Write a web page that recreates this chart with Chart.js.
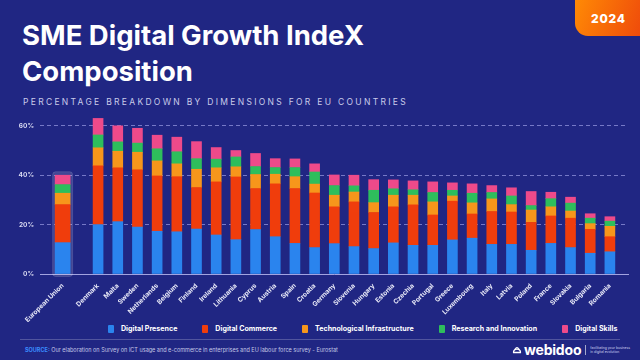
<!DOCTYPE html>
<html>
<head>
<meta charset="utf-8">
<script src="https://cdn.jsdelivr.net/npm/chart.js@4.4.1/dist/chart.umd.min.js"></script>
<style>
  html, body { margin: 0; padding: 0; }
  body { width: 640px; height: 360px; background: #202683; position: relative; overflow: hidden; font-family: Inter, "Open Sans", sans-serif; color: #fff; }
  #title { position: absolute; left: 22px; top: 17px; font-size: 27.5px; font-weight: 700; line-height: 36px; }
  #subtitle { position: absolute; left: 23px; top: 97px; font-size: 8.5px; letter-spacing: 2.3px; color: #c9cbea; white-space: nowrap; }
  #tab { position: absolute; left: 575px; top: 0; width: 65px; height: 36px; border-bottom-left-radius: 13px;
         background: linear-gradient(110deg, #ff8a05, #ef4b0b); font-weight: 800; font-size: 12px; letter-spacing: 0.8px;
         display: flex; align-items: center; justify-content: center; padding-left: 2px; box-sizing: border-box; }
  #chart { position: absolute; left: 0; top: 100px; }
  #legend { position: absolute; left: 108px; top: 324px; display: flex; gap: 25px; font-size: 7.1px; font-weight: 700; white-space: nowrap; }
  #legend span { display: flex; align-items: center; }
  #legend i { display: inline-block; width: 6px; height: 8px; margin-right: 7px; border-radius: 1px; }
  #rule { position: absolute; left: 20px; right: 20px; top: 339px; height: 1px; background: rgba(255,255,255,0.22); }
  #source { position: absolute; left: 25px; top: 347px; font-size: 5.5px; color: #c4c7e6; white-space: nowrap; }
  #source b { color: #3a8cff; }
  #logo { position: absolute; left: 512px; top: 341px; display: flex; align-items: center; }
  #logo .name { font-size: 14px; font-weight: 700; letter-spacing: -0.2px; margin-left: 2px; }
  #logo .bar { width: 1px; height: 10px; background: rgba(255,255,255,0.6); margin: 0 4px 0 4px; }
  #logo .tag { font-size: 3.4px; line-height: 4px; color: #d0d3f0; white-space: nowrap; }
</style>
</head>
<body>
<div id="title">SME Digital Growth IndeX<br>Composition</div>
<div id="subtitle">PERCENTAGE BREAKDOWN BY DIMENSIONS FOR EU COUNTRIES</div>
<div id="tab">2024</div>
<canvas id="chart" width="640" height="222"></canvas>
<div id="legend"></div>
<div id="rule"></div>
<div id="source"><b>SOURCE:</b> Our elaboration on Survey on ICT usage and e-commerce in enterprises and EU labour force survey - Eurostat</div>
<div id="logo">
  <svg width="10" height="9" viewBox="0 0 10 9"><path d="M1 7.5 H9 M1.5 7.5 A3.5 3.5 0 0 1 8.5 7.5" stroke="#fff" stroke-width="1.4" fill="none"/><path d="M3 4.5 A2 2 0 0 1 7 4.5" stroke="#fff" stroke-width="1" fill="none"/></svg>
  <span class="name">webidoo</span><span class="bar"></span>
  <span class="tag">facilitating your business<br>in digital evolution</span>
</div>
<script>
// paesi (il primo e' la media UE)
var countries = ['European Union', 'Denmark', 'Malta', 'Sweden', 'Netherlands', 'Belgium', 'Finland', 'Ireland',
  'Lithuania', 'Cyprus', 'Austria', 'Spain', 'Croatia', 'Germany', 'Slovenia', 'Hungary', 'Estonia', 'Czechia',
  'Portugal', 'Greece', 'Luxembourg', 'Italy', 'Latvia', 'Poland', 'France', 'Slovakia', 'Bulgaria', 'Romania'];

var digitalPresence = [12.7, 20.0, 21.2, 19.0, 17.3, 17.1, 18.2, 15.8, 13.9, 18.0, 15.1, 12.4, 10.7, 12.3, 11.1, 10.3,
  12.6, 11.6, 11.6, 13.8, 14.5, 12.0, 12.0, 9.6, 12.4, 10.7, 8.4, 9.0];
var digitalCommerce = [15.4, 23.8, 21.8, 23.2, 22.4, 22.3, 16.8, 21.5, 25.4, 16.6, 21.4, 22.2, 22.1, 14.9, 18.1, 14.6,
  14.6, 16.4, 12.3, 15.7, 9.8, 13.3, 13.1, 11.3, 11.1, 11.9, 9.7, 6.1];
var techInfra = [4.6, 7.3, 6.7, 7.1, 6.1, 5.2, 7.4, 5.7, 4.1, 5.7, 3.9, 4.8, 3.6, 4.7, 4.0, 4.0,
  4.7, 3.9, 5.3, 2.1, 4.5, 5.1, 3.0, 5.0, 3.7, 2.9, 2.3, 4.2];
var researchInnovation = [3.5, 5.2, 3.8, 3.7, 4.9, 4.9, 4.3, 3.5, 4.0, 3.2, 2.7, 3.7, 4.9, 3.9, 2.5, 5.0,
  2.6, 2.2, 3.8, 2.3, 3.9, 2.6, 3.5, 1.8, 3.3, 3.2, 2.2, 2.1];
var digitalSkills = [3.8, 6.7, 6.5, 6.0, 5.5, 5.9, 6.9, 4.7, 2.6, 5.3, 3.6, 3.5, 3.3, 4.3, 4.3, 4.3,
  3.6, 3.6, 4.3, 3.0, 3.8, 2.8, 3.3, 5.7, 2.6, 2.4, 1.8, 1.8];

var yTicks = [0, 20, 40, 60];

var seriesNames = ['Digital Presence', 'Digital Commerce', 'Technological Infrastructure', 'Research and Innovation', 'Digital Skills'];
var seriesData = [digitalPresence, digitalCommerce, techInfra, researchInnovation, digitalSkills];
var seriesColors = ['#2a84ee', '#f03d0c', '#f7961b', '#2ebe5c', '#ee4a8a'];

// la UE sta un po' staccata dagli altri paesi
function posizione(i) { return i === 0 ? -0.8 : i; }

var datasets = [];
seriesData.forEach(function (serie, s) {
  // barra UE (piu' larga)
  datasets.push({
    label: seriesNames[s], data: [{ x: posizione(0), y: serie[0] }],
    backgroundColor: seriesColors[s], barThickness: 15
  });
  // barre dei paesi
  datasets.push({
    label: seriesNames[s],
    data: serie.slice(1).map(function (v, i) { return { x: posizione(i + 1), y: v }; }),
    backgroundColor: seriesColors[s], barThickness: 10
  });
});

// legenda html
var legend = document.getElementById('legend');
seriesNames.forEach(function (n, s) {
  legend.innerHTML += '<span><i style="background:' + seriesColors[s] + '"></i>' + n + '</span>';
});

// riquadro evidenziato dietro la barra UE
var evidenziaUE = {
  id: 'evidenziaUE',
  beforeDatasetsDraw: function (chart) {
    var c = chart.ctx, x = chart.scales.x, y = chart.scales.y;
    var tot = 0;
    seriesData.forEach(function (serie) { tot += serie[0]; });
    var cx = x.getPixelForValue(posizione(0));
    var top = y.getPixelForValue(tot) - 3.5, bottom = y.getPixelForValue(0) + 2.5;
    c.save();
    c.fillStyle = 'rgba(255,255,255,0.15)';
    c.strokeStyle = 'rgba(255,255,255,0.12)';
    c.beginPath();
    c.roundRect(cx - 10, top, 20, bottom - top, 3);
    c.fill();
    c.stroke();
    c.restore();
  }
};

var ctx = document.getElementById('chart').getContext('2d');
var grafico = new Chart(ctx, {
  type: 'bar',
  data: { datasets: datasets },
  plugins: [evidenziaUE],
  options: {
    responsive: false,
    animation: false,
    devicePixelRatio: 1,
    layout: { padding: { top: 11, right: 12, left: 0, bottom: 0 } },
    plugins: { legend: { display: false }, tooltip: { enabled: false } },
    scales: {
      x: {
        type: 'linear', stacked: true, offset: false, min: -1.95, max: 27.92,
        grid: { display: false },
        border: { display: true, color: 'rgba(205,205,255,0.75)', width: 1 },
        afterBuildTicks: function (scale) {
          scale.ticks = countries.map(function (n, i) { return { value: posizione(i) }; });
        },
        afterFit: function (scale) { scale.height = 48; scale.paddingLeft = 0; scale.paddingRight = 0; },
        ticks: {
          autoSkip: false, minRotation: 45, maxRotation: 45, padding: 0,
          color: '#e8e9f8', font: { family: 'Inter', size: 6.6, weight: 'bold' },
          callback: function (v, i) { return countries[i]; }
        }
      },
      y: {
        stacked: true, min: 0, max: 66,
        afterBuildTicks: function (scale) {
          scale.ticks = yTicks.map(function (v) { return { value: v }; });
        },
        afterFit: function (scale) { scale.width = 40; scale.paddingTop = 0; scale.paddingBottom = 0; },
        border: { display: false, dash: [4, 3] },
        grid: {
          drawTicks: false, lineWidth: 1,
          color: function (c) { return c.tick && c.tick.value === 0 ? 'rgba(0,0,0,0)' : 'rgba(190,190,255,0.55)'; }
        },
        ticks: {
          padding: 6, color: '#d9daf2', font: { family: 'Inter', size: 6.5, weight: 'bold' },
          callback: function (v) { return v + '%'; }
        }
      }
    }
  }
});
</script>
</body>
</html>
